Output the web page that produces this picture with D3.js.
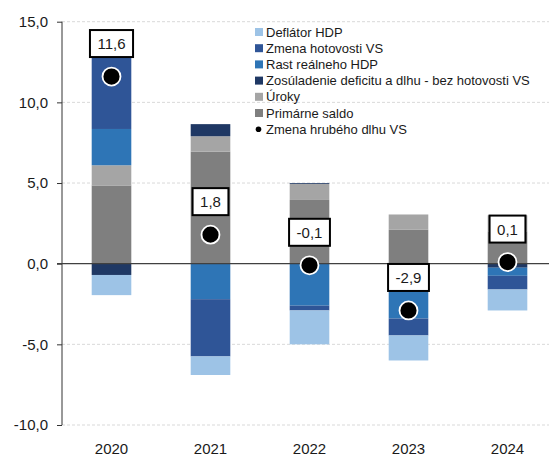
<!DOCTYPE html>
<html>
<head>
<meta charset="utf-8">
<script src="https://cdn.jsdelivr.net/npm/d3@7"></script>
<style>
body{margin:0;background:#fff}
text{font-family:"Liberation Sans",Arial,sans-serif;fill:#1a1a1a}
</style>
</head>
<body>
<div id="chart"></div>
<script>
var width = 549
var height = 456

// data
var years = ["2020","2021","2022","2023","2024"]
var deflator = [-1.25,-1.15,-2.1,-1.55,-1.3]
var zmenaHotovosti = [5.1,-3.55,-0.3,-1.05,-0.85]
var rastHdp = [2.25,-2.2,-2.6,-3.4,-0.5]
var zosuladenie = [-0.7,0.75,0.05,0,-0.25]
var uroky = [1.25,0.95,1.0,0.95,1.0]
var primarneSaldo = [4.85,6.95,3.95,2.1,2.0]
var hrubyDlh = [11.6,1.8,-0.1,-2.9,0.1]
var yTicks = [-10,-5,0,5,10,15]

var series = [
	{key:"deflator", name:"Deflátor HDP", color:"#9dc3e6", values:deflator},
	{key:"zmena", name:"Zmena hotovosti VS", color:"#2f5597", values:zmenaHotovosti},
	{key:"rast", name:"Rast reálneho HDP", color:"#2e75b6", values:rastHdp},
	{key:"zos", name:"Zosúladenie deficitu a dlhu - bez hotovosti VS", color:"#1f3864", values:zosuladenie},
	{key:"uroky", name:"Úroky", color:"#a5a5a5", values:uroky},
	{key:"saldo", name:"Primárne saldo", color:"#7f7f7f", values:primarneSaldo}
]
var colorOf = {}
series.forEach(function(s){ colorOf[s.key] = s.color })

var rows = years.map(function(y,i){
	var r = {year:y}
	series.forEach(function(s){ r[s.key] = s.values[i] })
	return r
})
// stacking order: reverse of legend
var stackKeys = series.map(function(s){ return s.key }).reverse()
var stacked = d3.stack().keys(stackKeys).offset(d3.stackOffsetDiverging)(rows)

var svg = d3.select("#chart").append("svg")
	.attr("width",width)
	.attr("height",height)

var x = d3.scaleBand().domain(years).range([62,557]).paddingInner(0.6).paddingOuter(0.3)
var y = d3.scaleLinear().domain([-10,15]).range([425,21.7])

// gridlines
svg.append("g").selectAll("line")
	.data(yTicks.filter(function(t){ return t!=0 }))
	.enter().append("line")
	.attr("x1",62).attr("x2",width)
	.attr("y1",function(d){ return y(d) }).attr("y2",function(d){ return y(d) })
	.style("stroke","#d9d9d9").style("stroke-width",1).style("stroke-dasharray","3,2")

// y axis
var yAxis = d3.axisLeft(y).tickValues(yTicks).tickSize(5).tickPadding(9)
	.tickFormat(function(d){ return d3.format(".1f")(d).replace(".",",").replace("−","-") })
var ag = svg.append("g").attr("transform","translate(62,0)").call(yAxis)
ag.select(".domain").attr("d","M0,"+y(15)+"V"+y(-10)).style("stroke","#333")
ag.selectAll(".tick line").style("stroke","#333")
ag.selectAll("text").style("font-size","15px").style("font-family","Liberation Sans, Arial, sans-serif").attr("fill","#1a1a1a")

// bars
svg.append("g").selectAll("g")
	.data(stacked)
	.enter().append("g")
	.style("fill",function(d){ return colorOf[d.key] })
	.selectAll("rect")
	.data(function(d){ return d })
	.enter().append("rect")
	.attr("x",function(d){ return x(d.data.year) })
	.attr("width",x.bandwidth())
	.attr("y",function(d){ return y(Math.max(d[0],d[1])) })
	.attr("height",function(d){ return Math.abs(y(d[0])-y(d[1])) })

// zero line
svg.append("line")
	.attr("x1",57).attr("x2",width)
	.attr("y1",y(0)).attr("y2",y(0))
	.style("stroke","#404040").style("stroke-width",1.3)

// category labels
svg.append("g").selectAll("text")
	.data(years)
	.enter().append("text")
	.attr("x",function(d){ return x(d)+x.bandwidth()/2 })
	.attr("y",454)
	.attr("text-anchor","middle")
	.style("font-size","15px")
	.text(function(d){ return d })

// debt change dots + labels
var dots = svg.append("g").selectAll("g")
	.data(years)
	.enter().append("g")
dots.append("circle")
	.attr("cx",function(d){ return x(d)+x.bandwidth()/2 })
	.attr("cy",function(d,i){ return y(hrubyDlh[i]) })
	.attr("r",9)
	.style("fill","#000").style("stroke","#fff").style("stroke-width",1.8)

dots.each(function(d,i){
	var g = d3.select(this)
	var cx = x(d)+x.bandwidth()/2
	var cy = y(hrubyDlh[i])-33
	var box = g.append("rect")
	var t = g.append("text")
		.attr("x",cx).attr("y",cy+5.5)
		.attr("text-anchor","middle")
		.style("font-size","15px")
		.text(d3.format(".1f")(hrubyDlh[i]).replace(".",",").replace("−","-"))
	var w = t.node().getComputedTextLength()+15
	box.attr("x",cx-w/2).attr("y",cy-13.5).attr("width",w).attr("height",27)
		.style("fill","#fff").style("stroke","#000").style("stroke-width",2)
})

// legend
var legend = svg.append("g").attr("transform","translate(255,0)")
var legendItems = series.concat([{name:"Zmena hrubého dlhu VS", dot:true}])
legendItems.forEach(function(s,i){
	var ly = 32+i*16.2
	if(s.dot){
		legend.append("circle").attr("cx",3.5).attr("cy",ly).attr("r",2.8).style("fill","#000")
	}else{
		legend.append("rect").attr("x",0).attr("y",ly-4).attr("width",8).attr("height",8).style("fill",s.color)
	}
	legend.append("text").attr("x",11).attr("y",ly+4.6).style("font-size","13px").text(s.name)
})
</script>
</body>
</html>
